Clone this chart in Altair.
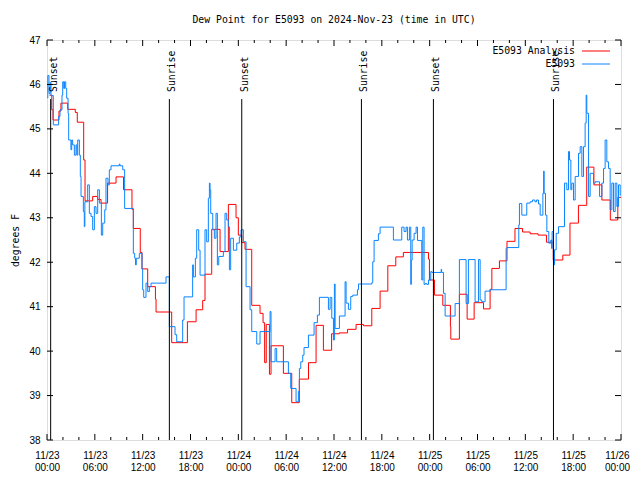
import json
import altair as alt
import pandas as pd

# ---------------- data (hours since 2024-11-23 00:00 UTC, dew point in F) -------------
red_hours = [0.3, 0.6, 0.75, 1.5, 1.75, 2.6, 3.55, 3.8, 4.6, 4.77, 5.73, 6.36, 6.78, 7.6,
             8.66, 9.6, 10.66, 10.83, 11.7, 11.92, 12.63, 13.6, 13.68, 15.64, 17.61, 18.7,
             19.53, 19.82, 20.66, 21.71, 22.75, 23.71, 24.0, 24.42, 24.84, 25.68, 26.72,
             27.1, 27.3, 27.5, 27.9, 28.1, 29.65, 30.7, 31.65, 32.8, 33.75, 34.67, 35.7,
             36.65, 37.7, 38.77, 39.7, 40.74, 41.78, 42.75, 43.75, 44.7, 47.85, 47.97,
             48.6, 49.65, 50.6, 50.65, 51.73, 52.7, 53.58, 54.75, 55.58, 55.8, 56.75,
             57.7, 58.7, 59.65, 60.6, 61.6, 62.65, 63.5, 64.7, 65.6, 66.66, 67.7, 68.6,
             69.6, 70.66, 71.6, 72.0]
red_vals = [45.76, 45.43, 45.2, 45.4, 45.58, 45.44, 45.37, 45.15, 44.3, 43.38, 43.48, 43.41,
            43.33, 43.78, 43.92, 43.63, 43.19, 42.76, 42.22, 41.85, 41.45, 41.17, 40.88,
            40.19, 40.66, 40.93, 41.14, 41.73, 42.74, 42.24, 43.3, 43.0, 42.61, 42.44,
            42.29, 41.03, 40.85, 40.64, 39.74, 40.6, 39.48, 40.12, 39.5, 38.84, 39.37,
            39.74, 40.58, 40.02, 40.39, 40.41, 40.49, 40.6, 40.57, 40.96, 41.35, 41.92,
            42.12, 42.22, 42.07, 41.6, 41.26, 41.03, 40.55, 40.27, 41.28, 40.72, 41.09,
            40.95, 41.39, 41.86, 42.03, 42.47, 42.76, 42.68, 42.64, 42.61, 42.45, 42.05,
            42.16, 42.88, 43.28, 44.14, 43.74, 43.4, 42.95, 43.46, 43.46]

blue_hours = [0.0, 0.1, 0.25, 0.4, 0.5, 0.79, 1.46, 1.63, 1.88, 1.97, 2.1, 2.2, 2.35, 2.47,
              2.64, 2.72, 3.0, 3.1, 3.22, 3.43, 3.64, 3.75, 3.85, 4.06, 4.18, 4.27, 4.56,
              4.68, 4.75, 5.1, 5.31, 5.52, 5.73, 5.94, 6.15, 6.36, 6.57, 6.82, 6.99, 7.24,
              7.4, 7.65, 7.82, 8.03, 9.07, 9.15, 9.5, 9.74, 10.83, 11.0, 11.1, 11.2, 11.58,
              11.92, 12.0, 12.13, 12.42, 12.63, 12.84, 13.05, 14.93, 15.35, 16.06, 16.27,
              17.02, 17.19, 18.27, 18.36, 18.61, 18.78, 19.03, 19.2, 19.82, 20.03, 20.24,
              20.37, 20.45, 20.54, 20.79, 20.99, 21.2, 21.37, 21.54, 22.12, 22.33, 22.54,
              22.75, 22.88, 23.04, 23.38, 23.8, 24.13, 24.34, 24.63, 24.97, 25.47, 25.68,
              26.31, 26.72, 27.98, 28.1, 28.61, 28.81, 30.28, 30.57, 31.24, 31.53, 31.66,
              31.83, 32.08, 32.24, 32.79, 33.5, 33.92, 34.17, 35.3, 35.51, 35.72, 35.93,
              36.05, 36.14, 36.68, 37.39, 37.52, 37.81, 38.1, 38.35, 38.94, 39.07, 40.74,
              40.86, 41.03, 41.57, 41.78, 43.45, 44.29, 44.5, 44.71, 44.79, 45.04, 45.21,
              45.46, 45.63, 45.7, 45.8, 46.05, 46.3, 46.47, 47.01, 47.14, 47.3, 47.43,
              47.64, 47.85, 48.14, 48.27, 49.44, 49.5, 49.73, 49.94, 51.19, 51.73, 52.57,
              52.86, 53.7, 54.12, 54.33, 54.53, 54.95, 55.58, 57.59, 57.68, 59.18, 59.26,
              59.56, 60.18, 60.6, 60.9, 61.2, 61.4, 61.65, 61.86, 62.2, 62.3, 62.36, 62.53,
              62.7, 62.94, 63.2, 63.3, 63.36, 63.53, 63.66, 63.87, 64.16, 64.91, 65.2,
              65.41, 65.54, 65.71, 65.83, 66.04, 66.25, 66.67, 66.88, 67.09, 67.3, 67.5,
              67.63, 67.71, 67.93, 68.13, 68.55, 68.76, 69.31, 69.6, 69.81, 70.01, 70.22,
              70.43, 70.64, 70.85, 71.06, 71.27, 71.48, 71.69, 71.9, 72.0]
blue_vals = [45.7, 46.2, 45.8, 46.05, 45.75, 45.09, 45.28, 45.43, 45.76, 46.06, 45.91, 46.06,
             45.91, 45.69, 45.35, 44.75, 44.53, 44.75, 44.64, 44.41, 44.64, 44.41, 44.75,
             44.41, 43.93, 43.48, 43.14, 42.8, 43.36, 43.74, 43.1, 43.03, 42.73, 43.25,
             43.1, 43.63, 43.33, 42.61, 42.88, 43.18, 43.89, 43.74, 44.08, 44.17, 44.21,
             44.17, 44.08, 43.21, 42.2, 42.09, 41.94, 42.09, 42.2, 41.84, 41.38, 41.21,
             41.53, 41.34, 41.45, 41.53, 41.67, 40.55, 40.37, 40.21, 40.7, 41.22, 41.94,
             41.67, 42.09, 42.73, 42.27, 41.71, 42.73, 42.46, 43.44, 43.78, 43.63, 43.1,
             42.73, 42.54, 43.1, 41.94, 42.13, 42.24, 43.1, 42.95, 42.8, 41.83, 42.54,
             42.27, 42.43, 42.57, 42.73, 42.46, 41.45, 40.93, 40.44, 40.16, 40.44, 40.89,
             39.76, 40.06, 39.76, 39.5, 39.16, 38.86, 39.09, 39.61, 39.76, 39.91, 40.08,
             40.36, 40.64, 40.81, 41.21, 40.94, 41.21, 40.74, 40.25, 41.51, 40.51, 40.79,
             41.56, 41.08, 40.94, 41.23, 41.26, 41.38, 41.51, 41.54, 42.01, 42.49, 42.64,
             42.79, 42.5, 42.5, 42.79, 42.79, 42.69, 42.79, 42.5, 42.79, 41.5, 42.05, 42.5,
             42.65, 42.79, 42.49, 41.6, 42.79, 41.5, 41.52, 41.5, 41.6, 41.79, 41.77, 41.84,
             41.77, 41.3, 40.79, 41.07, 42.06, 41.07, 42.06, 41.11, 42.06, 41.15, 41.11,
             41.35, 41.38, 42.31, 42.33, 42.84, 43.32, 43.06, 43.33, 43.36, 43.4, 43.36,
             43.4, 43.31, 43.06, 43.55, 44.05, 43.55, 43.06, 42.69, 42.43, 42.5, 42.31,
             42.69, 41.94, 42.28, 42.65, 42.8, 43.78, 43.63, 44.49, 44.3, 43.63, 43.78,
             43.4, 43.93, 44.45, 44.6, 43.93, 44.6, 45.13, 45.76, 45.35, 43.48, 44.0, 43.78,
             43.81, 43.48, 43.78, 44.11, 44.75, 44.26, 44.11, 43.18, 43.78, 43.14, 43.78,
             43.25, 43.74, 43.51, 43.51]

series_names = ["E5093 Analysis", "E5093"]
series_colors = ["#ff0000", "#0a84ff"]

sun_hours = [0.46, 15.35, 24.43, 39.44, 48.47, 63.53]
sun_labels = ["Sunset", "Sunrise", "Sunset", "Sunrise", "Sunset", "Sunrise"]

x_tick_hours = list(range(0, 73, 6))
x_tick_dates = ["11/23", "11/23", "11/23", "11/23", "11/24", "11/24", "11/24", "11/24",
                "11/25", "11/25", "11/25", "11/25", "11/26"]
x_tick_times = ["00:00", "06:00", "12:00", "18:00", "00:00", "06:00", "12:00", "18:00",
                "00:00", "06:00", "12:00", "18:00", "00:00"]
x_minor_hours = [h for h in range(0, 73, 2) if h % 6]
y_ticks = list(range(38, 48))

title_text = "Dew Point for E5093 on 2024-Nov-23 (time in UTC)"
y_title = "degrees F"

# ---------------- build ----------------
FONT = "DejaVu Sans Mono"
FS = 9.8
W, H = 574, 400

df = pd.concat([
    pd.DataFrame({"h": red_hours, "v": red_vals, "series": series_names[0]}),
    pd.DataFrame({"h": blue_hours, "v": blue_vals, "series": series_names[1]}),
], ignore_index=True)

xscale = alt.Scale(domain=[0, 72], nice=False, zero=False)
yscale = alt.Scale(domain=[38, 47], nice=False, zero=False)
cscale = alt.Scale(domain=series_names, range=series_colors)

label_expr = (f"[{json.dumps(x_tick_dates)}[round(datum.value/6)], "
              f"{json.dumps(x_tick_times)}[round(datum.value/6)]]")

lines = alt.Chart(df).mark_line(interpolate="step-after", strokeWidth=1).encode(
    x=alt.X("h:Q", scale=xscale,
            axis=alt.Axis(values=x_tick_hours, labelExpr=label_expr, title=None,
                          ticks=False, domain=False, grid=False, labelPadding=10,
                          labelLineHeight=12, labelOverlap=False, labelBound=False,
                          labelFlush=False,
                          labelOffset={"condition": {"test": "datum.value >= 72",
                                                     "value": -4}, "value": 0})),
    y=alt.Y("v:Q", scale=yscale,
            axis=alt.Axis(values=y_ticks, title=y_title, ticks=False, domain=False,
                          grid=False, labelPadding=7, titlePadding=8,
                          titleFontWeight="normal", titleFont=FONT, titleFontSize=FS)),
    color=alt.Color("series:N", scale=cscale, legend=None),
    detail="series:N",
)

# gnuplot-style key: label right-aligned, line sample to its right
key_layers = []
for i, name in enumerate(series_names):
    kd = pd.DataFrame({"series": [name]})
    ky = 11 + 13 * i
    key_layers.append(alt.Chart(kd).mark_text(align="right", baseline="middle", font=FONT,
                                              fontSize=FS, color="black").encode(
        x=alt.value(528), y=alt.value(ky), text="series:N"))
    key_layers.append(alt.Chart(kd).mark_rule(strokeWidth=1).encode(
        x=alt.value(535), x2=alt.value(563), y=alt.value(ky),
        color=alt.Color("series:N", scale=cscale, legend=None)))

sun_df = pd.DataFrame({"h": sun_hours, "label": sun_labels})
sun_rules = alt.Chart(sun_df).mark_rule(color="black", strokeWidth=1).encode(
    x=alt.X("h:Q", scale=xscale),
    y=alt.value(H), y2=alt.value(59),
)
sun_text = alt.Chart(sun_df).mark_text(angle=270, align="left", baseline="middle",
                                       dy=3, font=FONT, fontSize=FS, color="black").encode(
    x=alt.X("h:Q", scale=xscale),
    y=alt.value(52),
    text="label:N",
)

maj_df = pd.DataFrame({"h": x_tick_hours})
min_df = pd.DataFrame({"h": x_minor_hours})
yt_df = pd.DataFrame({"v": y_ticks})

def xticks(d, length):
    bot = alt.Chart(d).mark_rule(color="black").encode(
        x=alt.X("h:Q", scale=xscale), y=alt.value(H), y2=alt.value(H - length))
    top = alt.Chart(d).mark_rule(color="black").encode(
        x=alt.X("h:Q", scale=xscale), y=alt.value(0), y2=alt.value(length))
    return [bot, top]

yl = alt.Chart(yt_df).mark_rule(color="black").encode(
    y=alt.Y("v:Q", scale=yscale), x=alt.value(0), x2=alt.value(6))
yr = alt.Chart(yt_df).mark_rule(color="black").encode(
    y=alt.Y("v:Q", scale=yscale), x=alt.value(W), x2=alt.value(W - 6))

chart = alt.layer(
    lines, *xticks(maj_df, 6), *xticks(min_df, 3), yl, yr,
    sun_rules, sun_text, *key_layers,
).properties(
    width=W, height=H,
    title=alt.TitleParams(title_text, font=FONT, fontSize=FS, fontWeight="normal",
                          anchor="middle", offset=10, color="black"),
    autosize=alt.AutoSizeParams(type="none"),
    padding={"left": 39, "top": 32, "right": 11, "bottom": 32},
).configure_view(
    stroke="black", strokeWidth=1,
).configure_axis(
    labelFont=FONT, labelFontSize=FS, labelColor="black",
    titleFont=FONT, titleFontSize=FS, titleFontWeight="normal", titleColor="black",
).configure(background="white")

chart.save("out.html", embed_options={"renderer": "svg", "actions": False})
